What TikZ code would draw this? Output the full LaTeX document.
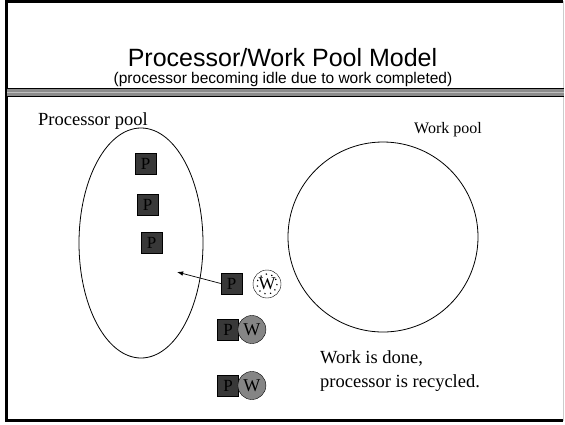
\documentclass[tikz,border=0pt]{standalone}
\usepackage{fontspec}
\setmainfont{Liberation Serif}
\newfontfamily\arialfont{Liberation Sans}
\usetikzlibrary{arrows.meta,positioning,calc}

\definecolor{procgray}{HTML}{383838}
\definecolor{workgray}{HTML}{858585}
\definecolor{bandgray}{HTML}{8C8C8C}

\begin{document}
\begin{tikzpicture}[
  x=1pt, y=-1pt,
  >=Latex,
  title/.style={font=\arialfont\fontsize{25}{25}\selectfont, inner sep=0pt},
  subtitle/.style={font=\arialfont\fontsize{15.5}{16}\selectfont, inner sep=0pt},
  label/.style={font=\fontsize{18.5}{24}\selectfont, align=left, inner sep=0pt},
  pbox/.style={draw, fill=procgray, minimum size=21pt, inner sep=0pt,
               font=\fontsize{17}{17}\selectfont},
  wcirc/.style={draw, circle, fill=workgray, minimum size=28pt, inner sep=0pt,
                font=\fontsize{18}{18}\selectfont},
  wgone/.style={draw, circle, fill=white, minimum size=28pt, inner sep=0pt,
                font=\fontsize{18}{18}\selectfont},
  pool/.style={draw, line width=0.8pt}
]
\useasboundingbox (0,0) rectangle (565,424);

% slide frame
\draw[black!20, line width=1.2pt] (563.5,1) -- (563.5,420.5);
\draw[line width=2.5pt] (563,1.5) -- (6.5,1.5) -- (6.5,420.5) -- (563,420.5);

% title band
\fill[bandgray] (7,88) rectangle (564,96);
\draw[black!25, line width=1pt] (7,92) -- (564,92);
\draw[line width=1pt] (7,88) -- (564,88);
\draw[line width=1pt] (7,96) -- (564,96);
\node[title, anchor=base] (ttl) at (282.5,66) {Processor/Work Pool Model};
\node[subtitle, anchor=base] (sub) at (283,83) {(processor becoming idle due to work completed)};

% the two pools
\draw[pool] (141,243) ellipse [x radius=62, y radius=115];
\draw[pool] (383,237) circle [radius=95];
\node[label, anchor=base west] (ppool) at (38,125) {Processor pool};
\node[label, anchor=base west, font=\fontsize{16}{16}\selectfont] (wpool) at (414,133) {Work pool};

% idle processors
\node[pbox] (p1) at (145.5,163.5) {P};
\node[pbox] (p2) at (147.5,205) {P};
\node[pbox] (p3) at (151.5,242.5) {P};

% processor returning, work completed
\node[pbox] (p4) at (231.5,283.5) {P};
\node[wgone] (w4) at (267,284) {W};
\draw[dotted, line width=1.2pt, dash pattern=on 1.2pt off 4.5pt] (w4.center) circle [radius=10];
\coordinate (back) at (177,272);
\draw[->, line width=0.7pt] (p4.west) -- (back);

% busy processors
\node[pbox] (p5) at (228,329.5) {P};
\node[wcirc, right=-1pt of p5] (w5) {W};
\node[pbox] (p6) at (228,385.5) {P};
\node[wcirc, right=-1pt of p6] (w6) {W};

\node[label, anchor=base west] (done) at (320,387) {Work is done,\\processor is recycled.};

\end{tikzpicture}
\end{document}
